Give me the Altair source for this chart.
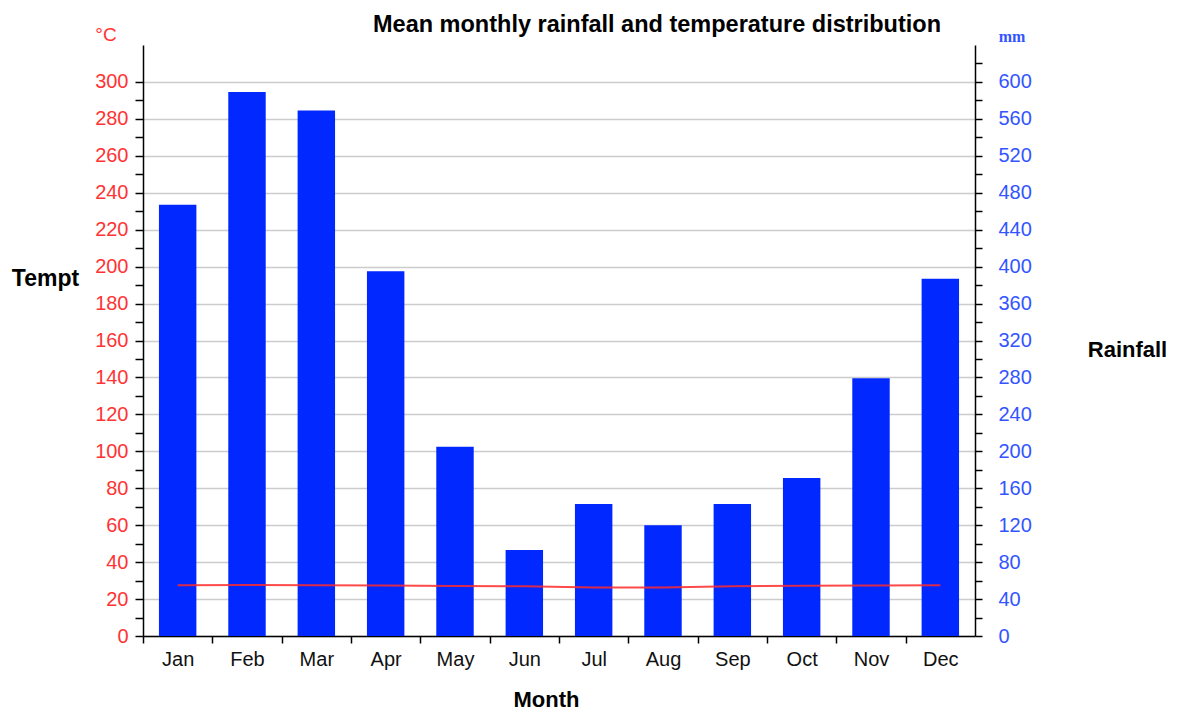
import altair as alt
import pandas as pd

months = ["Jan", "Feb", "Mar", "Apr", "May", "Jun", "Jul", "Aug", "Sep", "Oct", "Nov", "Dec"]
rainfall_mm = [467, 589, 569, 395, 205, 93, 143, 120, 143, 171, 279, 387]
temp_c = [27.5, 27.6, 27.5, 27.3, 27.1, 26.9, 26.3, 26.2, 26.9, 27.2, 27.4, 27.5]

temp_ticks = list(range(0, 301, 10))
rain_ticks = list(range(0, 621, 20))

df = pd.DataFrame({"Month": months, "Rainfall": rainfall_mm, "Tempt": temp_c})

W, H = 832, 591
step = W / 12
FONT = "Liberation Sans"

x_enc = alt.X(
    "Month:N",
    sort=months,
    scale=alt.Scale(paddingInner=0.46, paddingOuter=0.23),
    axis=alt.Axis(
        title="Month",
        tickOffset=-step / 2,
        labelOffset=step / 2,
        labelAngle=0,
        labelColor="#111111",
        labelFontSize=20,
        labelPadding=6,
        tickSize=7,
        titleX=403,
        titleY=63,
        titleBaseline="middle",
        titleAlign="center",
        titleFontSize=22,
        titleFontWeight="bold",
        titleColor="#000000",
    ),
)

bars = alt.Chart(df).mark_bar(color="#0028ff").encode(
    x=x_enc,
    y=alt.Y(
        "Rainfall:Q",
        scale=alt.Scale(domain=[0, 640], nice=False),
        axis=alt.Axis(
            orient="right",
            title="Rainfall",
            values=rain_ticks,
            labelExpr="datum.value % 40 === 0 ? datum.label : ''",
            grid=False,
            labelColor="#3355ff",
            labelFontSize=20,
            labelPadding=16,
            tickSize=7,
            titleAngle=0,
            titleX=152,
            titleY=304,
            titleAlign="center",
            titleBaseline="middle",
            titleFontSize=22,
            titleFontWeight="bold",
            titleColor="#000000",
        ),
    ),
)

line = alt.Chart(df).mark_line(color="#ff2a2a", strokeWidth=2, opacity=0.85).encode(
    x=alt.X("Month:N", sort=months),
    y=alt.Y(
        "Tempt:Q",
        scale=alt.Scale(domain=[0, 320], nice=False),
        axis=alt.Axis(
            orient="left",
            title="Tempt",
            values=temp_ticks,
            labelExpr="datum.value % 20 === 0 ? datum.label : ''",
            grid=True,
            gridColor="#cccccc",
            gridWidth=1.5,
            gridOpacity={"condition": {"test": "datum.value % 20 === 0", "value": 1}, "value": 0},
            labelColor="#ff3333",
            labelFontSize=20,
            labelPadding=7,
            tickSize=8,
            titleAngle=0,
            titleX=-98,
            titleY=233,
            titleAlign="center",
            titleBaseline="middle",
            titleFontSize=23,
            titleFontWeight="bold",
            titleColor="#000000",
        ),
    ),
)

units = pd.DataFrame({"unit": ["°C", "mm"]})
unit_c = alt.Chart(units[units.unit == "°C"]).mark_text(
    font=FONT, fontSize=19, color="#ff3333", align="center", baseline="middle"
).encode(text="unit:N", x=alt.value(-37), y=alt.value(-10))
unit_mm = alt.Chart(units[units.unit == "mm"]).mark_text(
    font="Liberation Serif", fontSize=16, fontWeight="bold", color="#3355ff", align="center", baseline="middle"
).encode(text="unit:N", x=alt.value(869), y=alt.value(-8))

chart = (
    alt.layer(bars, line, unit_c, unit_mm)
    .resolve_scale(y="independent")
    .properties(
        width=W,
        height=H,
        autosize=alt.AutoSizeParams(type="none"),
        padding={"left": 135, "top": 37, "right": 195, "bottom": 78},
        title=alt.TitleParams(
            "Mean monthly rainfall and temperature distribution",
            anchor="middle",
            dx=98,
            dy=10,
            offset=0,
            font=FONT,
            fontSize=23.5,
            fontWeight="bold",
            color="#000000",
        ),
    )
    .configure_view(stroke=None)
    .configure_axis(
        domainColor="#000000",
        domainWidth=1.5,
        tickColor="#000000",
        tickWidth=1.5,
        labelFont=FONT,
        titleFont=FONT,
    )
)

chart.save("out.html", embed_options={"renderer": "svg", "actions": False})
